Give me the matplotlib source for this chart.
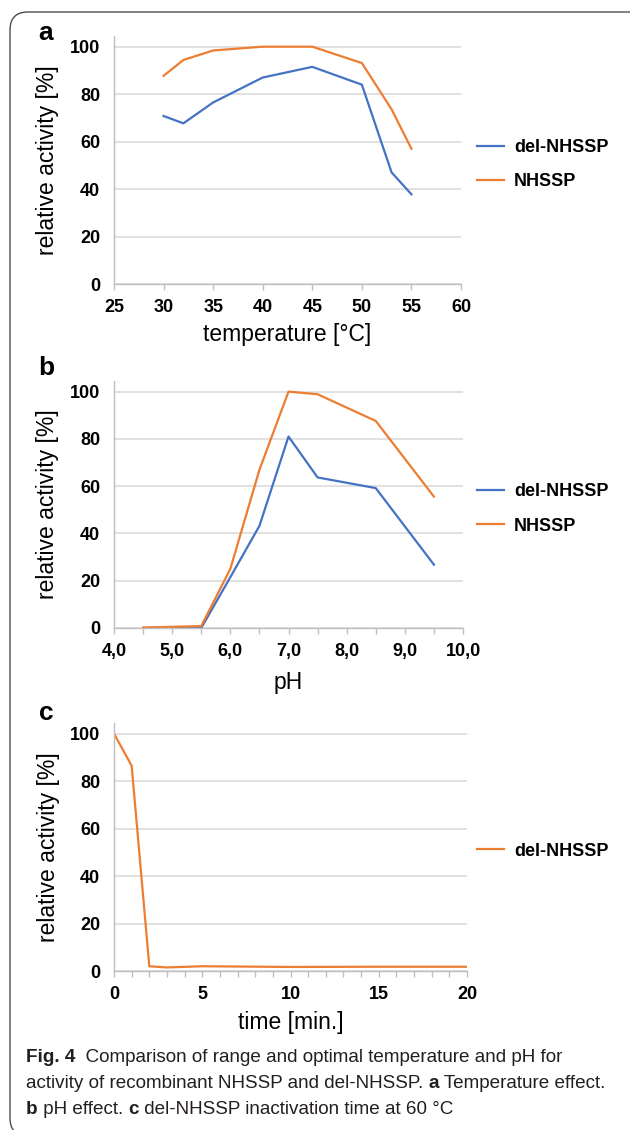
import matplotlib
matplotlib.use("Agg")
import matplotlib.pyplot as plt
from matplotlib.patches import FancyBboxPatch
from matplotlib.ticker import MultipleLocator, FuncFormatter

# ---- data ----
temp = [30, 32, 35, 40, 45, 50, 53, 55]
temp_del = [70.8, 67.7, 76.5, 87.0, 91.5, 84.0, 47.0, 37.8]
temp_nhssp = [87.7, 94.4, 98.4, 100.0, 100.0, 93.1, 73.6, 57.0]

ph = [4.5, 5.0, 5.5, 6.0, 6.5, 7.0, 7.5, 8.5, 9.5]
ph_del = [0.0, 0.0, 0.0, 21.5, 43.2, 81.0, 63.7, 59.2, 26.8]
ph_nhssp = [0.2, 0.5, 0.8, 25.0, 66.9, 100.0, 98.9, 87.6, 55.6]

time = [0, 1, 2, 3, 5, 10, 15, 20]
time_act = [100.0, 86.5, 2.0, 1.5, 2.0, 1.7, 1.8, 1.8]

BLUE = "#4472C4"
ORANGE = "#ED7D31"
GRID = "#d9d9d9"
AXC = "#bfbfbf"

W, H = 630, 1130
fig = plt.figure(figsize=(W / 100, H / 100), dpi=100)
fig.patch.set_facecolor("white")

tickfont = dict(family=["Liberation Sans", "DejaVu Sans"], weight="bold", size=13)
labfont = dict(family=["Liberation Sans", "DejaVu Sans"], size=16.5)


def px_axes(left, right, top, bottom):
    return fig.add_axes([left / W, 1 - bottom / H, (right - left) / W, (bottom - top) / H])


def style(ax, xlim, major, minor, xlabel, xlab_y, ylab_x, letter, letter_y):
    ax.set_xlim(*xlim)
    ax.set_ylim(0, 104.5)
    ax.set_yticks([0, 20, 40, 60, 80, 100])
    ax.xaxis.set_major_locator(MultipleLocator(major))
    ax.xaxis.set_minor_locator(MultipleLocator(minor))
    ax.yaxis.grid(True, color=GRID, lw=1.1)
    ax.set_axisbelow(True)
    for s in ["top", "right"]:
        ax.spines[s].set_visible(False)
    for s in ["left", "bottom"]:
        ax.spines[s].set_color(AXC)
        ax.spines[s].set_linewidth(1.0)
    ax.tick_params(axis="x", which="both", direction="out", length=4, width=1, color=AXC, pad=7)
    ax.tick_params(axis="y", length=0, pad=10)
    for t in ax.get_xticklabels() + ax.get_yticklabels():
        t.set_fontproperties(matplotlib.font_manager.FontProperties(**tickfont))
    ax.set_xlabel(xlabel, va="center", **labfont)
    ax.set_ylabel("relative activity [%]", va="center", **labfont)
    pos = ax.get_position()
    ax.xaxis.set_label_coords(0.5, ((1 - xlab_y / H) - pos.y0) / pos.height)
    ax.yaxis.set_label_coords((ylab_x / W - pos.x0) / pos.width, 0.5)
    fig.text(46 / W, 1 - letter_y / H, letter, ha="center", va="center",
             family=["Liberation Sans", "DejaVu Sans"], weight="bold", size=19)


def legend(ax, fy):
    ax.legend(loc="center left", bbox_to_anchor=(477 / W, 1 - fy / H),
              bbox_transform=fig.transFigure, frameon=False, borderpad=0,
              borderaxespad=0, handlelength=1.5, handletextpad=0.55,
              labelspacing=0.95, prop=tickfont)


# ---- a: temperature ----
ax1 = px_axes(114, 461, 36, 284)
ax1.plot(temp, temp_del, color=BLUE, lw=1.6, label="del-NHSSP")
ax1.plot(temp, temp_nhssp, color=ORANGE, lw=1.6, label="NHSSP")
style(ax1, (25, 60), 5, 5, "temperature [°C]", 335, 48, "a", 33)
legend(ax1, 164.5)

# ---- b: pH ----
ax2 = px_axes(114, 463, 381, 628)
ax2.plot(ph, ph_del, color=BLUE, lw=1.6, label="del-NHSSP")
ax2.plot(ph, ph_nhssp, color=ORANGE, lw=1.6, label="NHSSP")
style(ax2, (4, 10), 1, 0.5, "pH", 683, 48, "b", 368)
ax2.xaxis.set_major_formatter(FuncFormatter(lambda v, p: f"{v:.1f}".replace(".", ",")))
legend(ax2, 509)

# ---- c: inactivation time ----
ax3 = px_axes(114, 467, 723, 971)
ax3.plot(time, time_act, color=ORANGE, lw=1.6, label="del-NHSSP")
style(ax3, (0, 20), 5, 1, "time [min.]", 1022, 48, "c", 713)
legend(ax3, 851)

# ---- rounded frame ----
frame = FancyBboxPatch((10, -6), 700, 1130 - 12 + 6,
                       boxstyle="round,pad=0,rounding_size=18",
                       transform=None, fill=False, ec="#4d4d4d", lw=1.0)
fig.add_artist(frame)

# ---- caption ----
cap = fig.add_axes([0, 0, 1, 1])
cap.axis("off")
capfont = ["Liberation Sans", "DejaVu Sans"]
cap_lines = [
    [("Fig. 4", "bold"), ("  Comparison of range and optimal temperature and pH for", "normal")],
    [("activity of recombinant NHSSP and del-NHSSP. ", "normal"), ("a", "bold"),
     (" Temperature effect.", "normal")],
    [("b", "bold"), (" pH effect. ", "normal"), ("c", "bold"),
     (" del-NHSSP inactivation time at 60 °C", "normal")],
]
for i, line in enumerate(cap_lines):
    y = 1 - (1057 + 26 * i) / H
    prev = None
    for txt, wt in line:
        if prev is None:
            prev = cap.text(26 / W, y, txt, ha="left", va="center", family=capfont,
                            weight=wt, size=13.6, color="#231f20", transform=cap.transAxes)
        else:
            prev = cap.annotate(txt, xy=(1, 0), xycoords=prev, ha="left", va="bottom",
                                family=capfont, weight=wt, size=13.6, color="#231f20")

fig.savefig("out.png", dpi=100)
